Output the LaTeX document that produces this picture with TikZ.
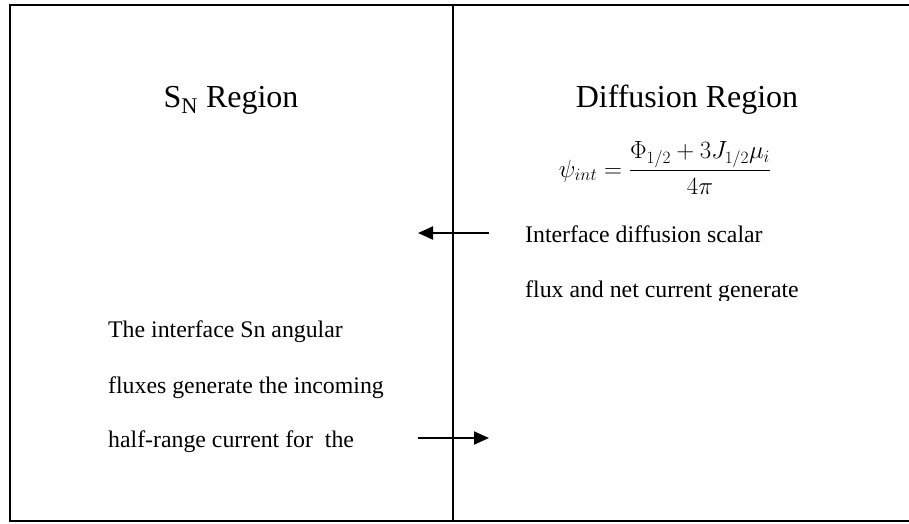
\documentclass[tikz,border=0pt]{standalone}
\usepackage{amsmath}
\usepackage{fontspec}
\setmainfont{Liberation Serif}
\usetikzlibrary{arrows.meta,positioning}

\tikzset{
  rule/.style={line width=2.6pt},
  flow/.style={line width=2pt, -{Triangle[length=15pt,width=13pt]}},
  title/.style={font=\fontsize{32}{36}\selectfont, anchor=base},
  note/.style={font=\fontsize{23.8}{28}\selectfont, anchor=base west, inner sep=0pt},
}

\begin{document}
\begin{tikzpicture}[x=1pt, y=-1pt]
  \useasboundingbox (0,0) rectangle (909,523);
  % frame, open on the right
  \draw[rule] (909,5) -- (10,5) -- (10,521) -- (909,521);
  \draw[rule] (453,5) -- (453,521);

  \node[title] (snTitle) at (231,107) {S\textsubscript{N} Region};
  \node[title] (dfTitle) at (687,107) {Diffusion Region};
  \node[font=\fontsize{23.5}{28}\selectfont] (psiInt) at (665,168)
    {$\displaystyle \psi_{int}=\frac{\Phi_{1/2}+3J_{1/2}\mu_i}{4\pi}$};

  \node[note] (dfNoteA) at (525,242) {Interface diffusion scalar};
  \begin{scope}
    \clip (460,200) rectangle (909,300);
    \node[note] (dfNoteB) at (525,297) {flux and net current generate};
  \end{scope}

  \node[note] (snNoteA) at (108,337) {The interface Sn angular};
  \node[note] (snNoteB) at (108,393) {fluxes generate the incoming};
  \node[note] (snNoteC) at (108,447) {half-range current for\ \ the};

  \coordinate (inTail) at (489,233);
  \coordinate (inHead) at (418,233);
  \coordinate (outTail) at (418,438);
  \coordinate (outHead) at (489,438);
  \draw[flow] (inTail) -- (inHead);
  \draw[flow] (outTail) -- (outHead);
\end{tikzpicture}
\end{document}
